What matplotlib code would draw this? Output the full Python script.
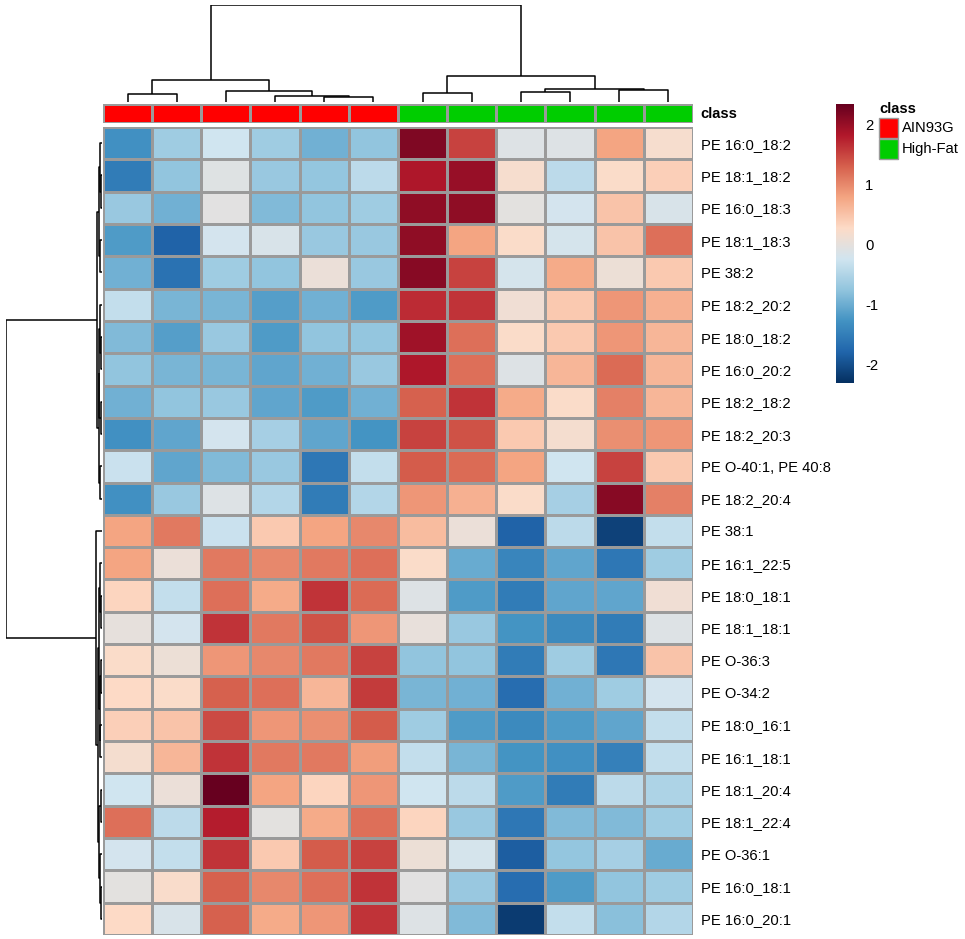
import matplotlib
matplotlib.use("Agg")
import matplotlib.pyplot as plt
from matplotlib.colors import ListedColormap, LinearSegmentedColormap
from matplotlib.patches import Rectangle
import numpy as np

plt.rcParams['font.family'] = ['Liberation Sans', 'DejaVu Sans']

## data ##

row_labels = ["PE 16:0_18:2", "PE 18:1_18:2", "PE 16:0_18:3", "PE 18:1_18:3", "PE 38:2",
              "PE 18:2_20:2", "PE 18:0_18:2", "PE 16:0_20:2", "PE 18:2_18:2", "PE 18:2_20:3",
              "PE O-40:1, PE 40:8", "PE 18:2_20:4", "PE 38:1", "PE 16:1_22:5", "PE 18:0_18:1",
              "PE 18:1_18:1", "PE O-36:3", "PE O-34:2", "PE 18:0_16:1", "PE 16:1_18:1",
              "PE 18:1_20:4", "PE 18:1_22:4", "PE O-36:1", "PE 16:0_18:1", "PE 16:0_20:1"]

# sample class for each column (0 = AIN93G, 1 = High-Fat)
col_class = [0, 0, 0, 0, 0, 0, 1, 1, 1, 1, 1, 1]
class_names = ["AIN93G", "High-Fat"]
class_colors = ["#FF0000", "#00CD00"]

# z-scores
values = np.array([
    [-1.30, -0.63, -0.24, -0.63, -0.97, -0.75,  2.18,  1.52, -0.10, -0.10,  0.79,  0.20],
    [-1.52, -0.75, -0.07, -0.69, -0.72, -0.41,  1.85,  2.01,  0.20, -0.41,  0.26,  0.40],
    [-0.69, -0.97, -0.04, -0.86, -0.75, -0.63,  2.07,  2.07, -0.02, -0.21,  0.51, -0.15],
    [-1.19, -1.80, -0.21, -0.15, -0.69, -0.69,  2.07,  0.79,  0.26, -0.18,  0.51,  1.19],
    [-0.97, -1.63, -0.63, -0.75,  0.07, -0.69,  2.13,  1.52, -0.18,  0.74,  0.09,  0.46],
    [-0.35, -0.91, -0.91, -1.14, -0.97, -1.19,  1.68,  1.63,  0.12,  0.46,  0.91,  0.68],
    [-0.86, -1.14, -0.69, -1.19, -0.75, -0.72,  1.96,  1.19,  0.26,  0.46,  0.91,  0.63],
    [-0.75, -0.91, -0.91, -1.08, -0.97, -0.69,  1.85,  1.19, -0.10,  0.63,  1.24,  0.63],
    [-0.97, -0.75, -0.69, -1.08, -1.19, -0.97,  1.30,  1.63,  0.74,  0.26,  1.07,  0.63],
    [-1.30, -1.08, -0.21, -0.58, -1.08, -1.25,  1.52,  1.41,  0.46,  0.18,  0.96,  0.91],
    [-0.30, -1.08, -0.86, -0.69, -1.58, -0.35,  1.35,  1.24,  0.79, -0.24,  1.52,  0.46],
    [-1.30, -0.69, -0.10, -0.47, -1.52, -0.47,  0.91,  0.68,  0.26, -0.58,  2.13,  1.07],
    [ 0.79,  1.13, -0.30,  0.46,  0.79,  1.02,  0.57,  0.07, -1.80, -0.41, -2.13, -0.35],
    [ 0.79,  0.07,  1.13,  1.02,  1.13,  1.19,  0.26, -1.02, -1.41, -1.08, -1.58, -0.63],
    [ 0.35, -0.35,  1.19,  0.74,  1.63,  1.24, -0.10, -1.19, -1.52, -1.08, -1.08,  0.12],
    [ 0.01, -0.21,  1.63,  1.13,  1.41,  0.91,  0.04, -0.69, -1.25, -1.36, -1.52, -0.10],
    [ 0.26,  0.09,  0.91,  1.02,  1.13,  1.52, -0.75, -0.75, -1.52, -0.63, -1.58,  0.51],
    [ 0.29,  0.26,  1.30,  1.19,  0.63,  1.57, -0.91, -0.97, -1.69, -0.97, -0.63, -0.21],
    [ 0.40,  0.51,  1.46,  0.91,  0.96,  1.35, -0.63, -1.19, -1.36, -1.19, -1.08, -0.35],
    [ 0.18,  0.63,  1.63,  1.13,  1.13,  0.85, -0.35, -0.91, -1.25, -1.30, -1.47, -0.35],
    [-0.24,  0.07,  2.35,  0.79,  0.35,  0.91, -0.24, -0.41, -1.19, -1.52, -0.41, -0.52],
    [ 1.19, -0.41,  1.79, -0.02,  0.74,  1.19,  0.35, -0.69, -1.58, -0.86, -0.86, -0.63],
    [-0.21, -0.35,  1.63,  0.46,  1.35,  1.52,  0.09, -0.18, -1.86, -0.72, -0.58, -1.02],
    [-0.02,  0.23,  1.30,  1.02,  1.19,  1.63, -0.04, -0.69, -1.69, -1.19, -0.75, -0.63],
    [ 0.29, -0.15,  1.30,  0.74,  0.91,  1.63, -0.10, -0.86, -2.19, -0.35, -0.80, -0.47],
])

# hierarchical merges (child a, child b, height), scipy style ids
col_merges = [(4, 5, 5.5), (3, 12, 6.3), (0, 1, 7.6), (2, 13, 10.6), (14, 15, 21.6),
              (6, 7, 9.0), (8, 9, 10.0), (10, 11, 11.6), (18, 19, 13.3), (17, 20, 26.0),
              (16, 21, 97.3)]

row_merges = [(1, 2, 1.2), (0, 25, 2.0), (3, 4, 1.5), (26, 27, 3.0), (6, 7, 1.0),
              (5, 29, 1.8), (8, 9, 1.4), (30, 31, 2.5), (10, 11, 1.6), (32, 33, 3.2),
              (28, 34, 5.3),
              (14, 15, 1.0), (13, 36, 1.8), (16, 17, 1.2), (18, 19, 1.5), (38, 39, 2.2),
              (37, 40, 3.0), (23, 24, 1.0), (22, 42, 1.6), (20, 21, 1.4), (44, 43, 2.5),
              (41, 45, 4.0), (12, 46, 6.0), (35, 47, 96.0)]

vmin, vmax = -2.3, 2.35
cbar_ticks = [2, 1, 0, -1, -2]

# RdBu with 10 classes, reversed
palette = ["#053061", "#2166AC", "#4393C3", "#92C5DE", "#D1E5F0",
           "#FDDBC7", "#F4A582", "#D6604D", "#B2182B", "#67001F"]

## figure ##

W, H = 965, 939
fig = plt.figure(figsize=(W / 100, H / 100), dpi=100)


def px_axes(x0, y0, x1, y1):
    return fig.add_axes([x0 / W, 1 - y1 / H, (x1 - x0) / W, (y1 - y0) / H])


def draw_dendro(ax, merges, n, vertical=False):
    pos = {i: i + 0.5 for i in range(n)}
    hgt = {i: 0.0 for i in range(n)}
    for k, (a, b, h) in enumerate(merges):
        xs = [pos[a], pos[a], pos[b], pos[b]]
        ys = [hgt[a], h, h, hgt[b]]
        if vertical:
            ax.plot(ys, xs, color="black", lw=1.1, solid_capstyle="butt")
        else:
            ax.plot(xs, ys, color="black", lw=1.1, solid_capstyle="butt")
        pos[n + k] = (pos[a] + pos[b]) / 2
        hgt[n + k] = h
    ax.axis("off")


cmap = LinearSegmentedColormap.from_list("rdbu10", palette, N=256)
n_rows, n_cols = values.shape
grid_col = "#9a9a9a"

# heatmap
hx0, hy0, hx1, hy1 = 103, 127, 693, 935
ax = px_axes(hx0, hy0, hx1, hy1)
ax.pcolormesh(values, cmap=cmap, vmin=vmin, vmax=vmax, edgecolors=grid_col, linewidth=1.0)
ax.set_xlim(0, n_cols)
ax.set_ylim(n_rows, 0)
ax.set_xticks([])
ax.yaxis.tick_right()
ax.set_yticks(np.arange(n_rows) + 0.5)
ax.set_yticklabels(row_labels, fontsize=10.6)
ax.tick_params(axis="y", length=0, pad=6)
for s in ax.spines.values():
    s.set_visible(False)

# class bar
axc = px_axes(hx0, 104, hx1, 123)
axc.pcolormesh(np.array([col_class]), cmap=ListedColormap(class_colors), vmin=0, vmax=1,
               edgecolors=grid_col, linewidth=1.0)
axc.set_xlim(0, n_cols)
axc.set_ylim(1, 0)
axc.axis("off")

# column dendrogram
axd = px_axes(hx0, 5, hx1, 102)
draw_dendro(axd, col_merges, n_cols)
axd.set_xlim(0, n_cols)
axd.set_ylim(0, 97.3)

# row dendrogram
axr = px_axes(6, hy0, 102, hy1)
draw_dendro(axr, row_merges, n_rows, vertical=True)
axr.set_ylim(n_rows, 0)
axr.set_xlim(96.0, 0)

# colour key
axk = px_axes(836, 104, 854, 383)
grad = np.linspace(vmax, vmin, 256).reshape(-1, 1)
axk.imshow(grad, cmap=cmap, vmin=vmin, vmax=vmax, aspect="auto",
           extent=[0, 1, vmin, vmax])
axk.set_xticks([])
axk.yaxis.tick_right()
axk.set_yticks(cbar_ticks)
axk.set_yticklabels([str(t) for t in cbar_ticks], fontsize=10.6)
axk.tick_params(axis="y", length=0, pad=8)
for s in axk.spines.values():
    s.set_visible(False)

# overlay for texts and class legend
ov = fig.add_axes([0, 0, 1, 1], facecolor="none")
ov.set_xlim(0, W)
ov.set_ylim(H, 0)
ov.axis("off")
ov.text(700, 114, "class", fontsize=10.6, fontweight="bold", va="center", ha="left")
ov.text(879, 109, "class", fontsize=10.6, fontweight="bold", va="center", ha="left")
for i, (name, c) in enumerate(zip(class_names, class_colors)):
    y = 118 + i * 21
    ov.add_patch(Rectangle((879, y), 19, 20, facecolor=c, edgecolor=grid_col, lw=1.0))
    ov.text(902, y + 10, name, fontsize=10.6, va="center", ha="left")

fig.savefig("out.png", dpi=100)
